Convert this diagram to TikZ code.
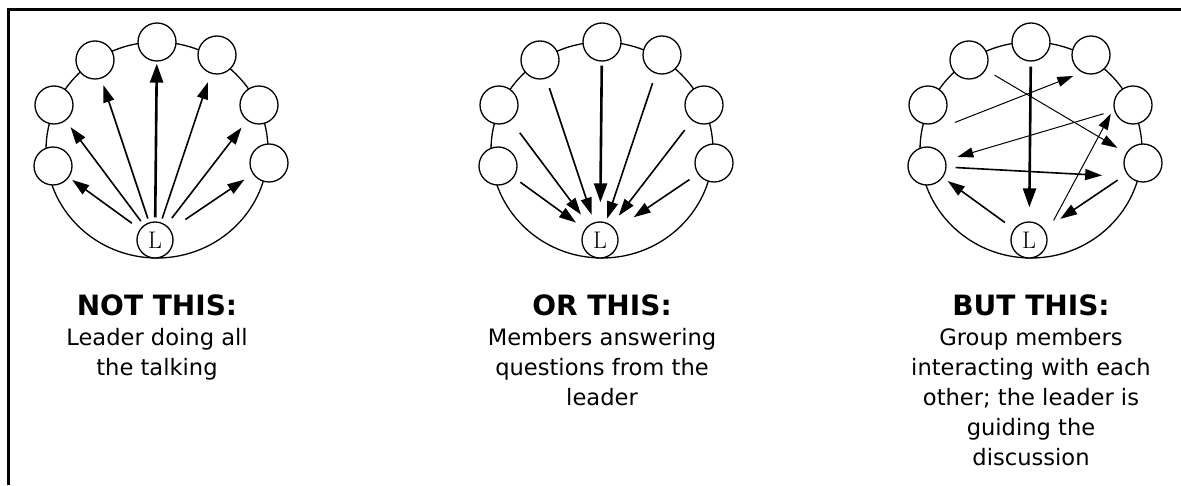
\documentclass[tikz,border=0pt]{standalone}
\usepackage{fontspec}
\setsansfont{DejaVu Sans}
\usetikzlibrary{arrows.meta,positioning}
\tikzset{
  ring/.style   ={draw, line width=1.3pt},
  member/.style ={draw, circle, line width=1.3pt, fill=white, minimum size=38pt, inner sep=0pt},
  leader/.style ={member, minimum size=36pt, font=\fontsize{24}{24}\selectfont},
  arr/.style    ={-{Triangle[length=17pt,width=11pt]}, line width=1.6pt},
  tarr/.style   ={-{Triangle[length=19pt,width=13pt]}, line width=2.6pt},
  narr/.style   ={-{Triangle[length=16pt,width=10pt]}, line width=1pt},
  head/.style   ={font=\sffamily\bfseries\fontsize{28}{30}\selectfont, inner sep=0pt},
  body/.style   ={font=\sffamily\fontsize{22.6}{30}\selectfont, align=center, inner sep=0pt},
}
% one circle of group members with the leader at the bottom
\newcommand{\groupring}[2]{%
  \begin{scope}[shift={(#2,335)}]
    \draw[ring] (0,0) ellipse [x radius=111pt, y radius=108pt];
    \node[member] (#1-t)  at (0,108)    {};
    \node[member] (#1-ul) at (-62,90)   {};
    \node[member] (#1-lu) at (-103,45)  {};
    \node[member] (#1-ll) at (-104,-16) {};
    \node[member] (#1-ur) at (60,95)    {};
    \node[member] (#1-ru) at (102,45)   {};
    \node[member] (#1-rl) at (112,-13)  {};
    \node[leader] (#1-L)  at (-2,-90)   {L};
  \end{scope}}

\begin{document}
\begin{tikzpicture}[x=1pt, y=1pt]
  \useasboundingbox (0,0) rectangle (1181,485);
  \draw[line width=3pt] (8,0) -- (8,475) -- (1185,475);

  % not this
  \groupring{talk}{157}
  \draw[arr, shorten <=10pt, shorten >=4pt] (talk-L) -- (talk-ll);
  \draw[arr, shorten <=5pt, shorten >=8pt] (talk-L) -- (talk-lu);
  \draw[arr, shorten <=4pt, shorten >=7pt] (talk-L) -- (talk-ul);
  \draw[tarr, shorten <=4pt, shorten >=2pt] (talk-L) -- (talk-t);
  \draw[arr, shorten <=4pt, shorten >=9pt] (talk-L) -- (talk-ur);
  \draw[arr, shorten <=9pt, shorten >=9pt] (talk-L) -- (talk-ru);
  \draw[arr, shorten <=18pt, shorten >=10pt] (talk-L) -- (talk-rl);
  \node[head] (talk-head) at (157,180) {NOT THIS:};
  \node[body, below=12pt of talk-head] (talk-note) {Leader doing all\\the talking};

  % or this
  \groupring{answer}{602}
  \draw[tarr, shorten <=4pt, shorten >=19pt] (answer-t) -- (answer-L);
  \draw[arr, shorten <=10pt, shorten >=8pt] (answer-ul) -- (answer-L);
  \draw[arr, shorten <=10pt, shorten >=4pt] (answer-ur) -- (answer-L);
  \draw[arr, shorten <=15pt, shorten >=13pt] (answer-lu) -- (answer-L);
  \draw[arr, shorten <=12pt, shorten >=12pt] (answer-ru) -- (answer-L);
  \draw[arr, shorten <=8pt, shorten >=11pt] (answer-ll) -- (answer-L);
  \draw[arr, shorten <=10pt, shorten >=22pt] (answer-rl) -- (answer-L);
  \node[head] (answer-head) at (602,180) {OR THIS:};
  \node[body, below=12pt of answer-head] (answer-note) {Members answering\\questions from the\\leader};

  % but this
  \groupring{share}{1031}
  \draw[tarr, shorten <=5pt, shorten >=14pt] (share-t) -- (share-L);
  \draw[arr, shorten <=9pt, shorten >=27pt] (share-ll) -- (share-rl.-135);
  \draw[arr, shorten <=11pt, shorten >=6pt] (share-L) -- (share-ll);
  \draw[arr, shorten <=11pt, shorten >=19pt] (share-rl) -- (share-L);
  \draw[narr, shorten <=15pt, shorten >=6pt] (share-L.20) -- (share-ru.190);
  \draw[narr, shorten <=10pt, shorten >=10pt] (share-ul) -- (share-rl);
  \draw[narr, shorten <=29pt, shorten >=19pt] ([yshift=-28pt]share-lu.center) -- ([yshift=-14pt]share-ur.center);
  \draw[narr, shorten <=11pt, shorten >=12pt] (share-ru) -- (share-ll);
  \node[head] (share-head) at (1031,180) {BUT THIS:};
  \node[body, below=12pt of share-head] (share-note) {Group members\\interacting with each\\other; the leader is\\guiding the\\discussion};
\end{tikzpicture}
\end{document}
